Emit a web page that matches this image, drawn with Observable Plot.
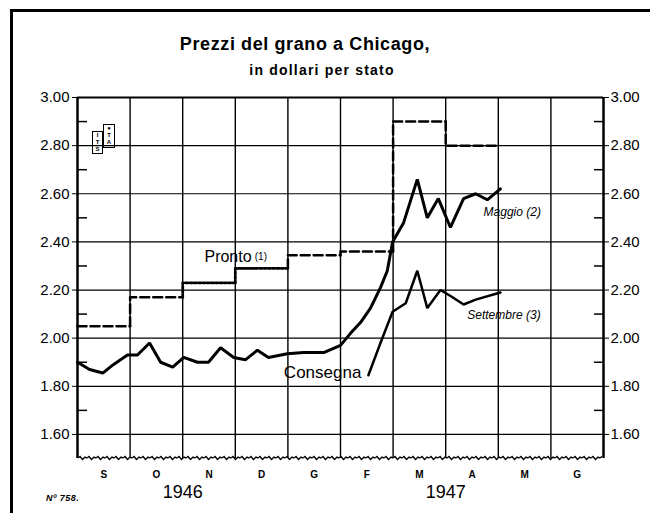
<!DOCTYPE html>
<html>
<head>
<meta charset="utf-8">
<script src="https://cdn.jsdelivr.net/npm/d3@7"></script>
<script src="https://cdn.jsdelivr.net/npm/@observablehq/plot@0.6"></script>
<style>
  html, body { margin: 0; padding: 0; background: #fff; }
  #wrap { position: relative; width: 650px; height: 513px; overflow: hidden; font-family: "Liberation Sans", Arial, sans-serif; }
  #border { position: absolute; left: 10px; top: 9px; right: -5px; bottom: -5px; border-top: 3px solid #000; border-left: 3px solid #000; }
  #header { position: relative; height: 80px; text-align: center; }
  #title { position: absolute; left: 0; right: 0; top: 34px; font-size: 18px; font-weight: bold; letter-spacing: 0.6px; padding-right: 40px; }
  #subtitle { position: absolute; left: 0; right: 0; top: 62px; font-size: 14px; font-weight: bold; letter-spacing: 1.2px; padding-right: 6px; }
  #num { position: absolute; left: 46px; top: 493px; font-size: 9px; font-style: italic; font-weight: bold; letter-spacing: 0.5px; }
  #logo1 { position: absolute; left: 92px; top: 131px; width: 9px; height: 21px; border: 1.5px solid #000; font-size: 6px; line-height: 7px; text-align: center; font-weight: bold; }
  #logo2 { position: absolute; left: 103px; top: 124px; width: 10px; height: 22px; border: 1.5px solid #000; font-size: 6px; line-height: 7px; text-align: center; font-weight: bold; }
  #wave { position: absolute; left: 78px; top: 454px; width: 524px; height: 8px;
    background-image: url("data:image/svg+xml,%3Csvg xmlns='http://www.w3.org/2000/svg' width='9' height='8'%3E%3Cpath d='M0,4 L2,2.5 L4.5,5.5 L7,3 L9,4' fill='none' stroke='black' stroke-width='1.4'/%3E%3C/svg%3E");
    background-repeat: repeat-x; }
  #chart svg { display: block; }
</style>
</head>
<body>
<div id="wrap">
  <div id="border"></div>
  <div id="header">
    <div id="title">Prezzi del grano a Chicago,</div>
    <div id="subtitle">in dollari per stato</div>
  </div>
  <div id="chart"></div>
  <div id="wave"></div>
  <div id="logo1">I<br>T<br>S</div>
  <div id="logo2">●<br>T<br>A</div>
  <div id="num">Nº 758.</div>
</div>
<script>
// Month letters (Sept 1946 – June 1947), one cell per month
const months = ["S", "O", "N", "D", "G", "F", "M", "A", "M", "G"];
const years = [{year: "1946", m: 2.0}, {year: "1947", m: 7.0}];

// y axis ticks
const yTicks = [1.6, 1.8, 2.0, 2.2, 2.4, 2.6, 2.8, 3.0];
const yMinor = [1.7, 1.9, 2.1, 2.3, 2.5, 2.7, 2.9];

// "Pronto" (spot) monthly prices and line style per month
const prontoValues = [2.05, 2.17, 2.23, 2.29, 2.345, 2.36, 2.90, 2.80];
const prontoStyle = ["dash", "dash", "dot", "dot", "dash", "dash", "dash", "dash"];

// "Consegna Maggio" (May delivery) – position in months from 1 Sept 1946, price
const maggioM = [0.00, 0.23, 0.48, 0.68, 0.95, 1.14, 1.37, 1.58, 1.81, 2.02, 2.28, 2.49, 2.72, 2.97, 3.19, 3.42, 3.63, 3.99, 4.30, 4.68, 5.00, 5.19, 5.38, 5.57, 5.76, 5.89, 5.99, 6.20, 6.46, 6.65, 6.86, 7.09, 7.34, 7.57, 7.79, 8.04];
const maggioV = [1.90, 1.87, 1.855, 1.89, 1.93, 1.93, 1.98, 1.90, 1.88, 1.92, 1.90, 1.90, 1.96, 1.92, 1.91, 1.95, 1.92, 1.935, 1.94, 1.94, 1.97, 2.02, 2.065, 2.125, 2.21, 2.28, 2.40, 2.48, 2.66, 2.50, 2.58, 2.46, 2.58, 2.60, 2.575, 2.62];

// "Consegna Settembre" (September delivery)
const settM = [5.53, 5.76, 5.99, 6.24, 6.46, 6.65, 6.90, 7.13, 7.34, 7.57, 8.04];
const settV = [1.846, 1.98, 2.11, 2.145, 2.28, 2.125, 2.20, 2.17, 2.14, 2.16, 2.19];

// Labels
const prontoLabel = [{text: "Pronto", m: 3.31, v: 2.337}];
const prontoNote = [{text: "(1)", m: 3.37, v: 2.337}];
const consegnaLabel = [{text: "Consegna", m: 4.66, v: 1.858}];
const italicLabels = [
  {text: "Maggio (2)", m: 7.72, v: 2.525},
  {text: "Settembre (3)", m: 7.41, v: 2.096}
];

// Build tables
const maggio = maggioM.map((m, i) => ({m, v: maggioV[i]}));
const sett = settM.map((m, i) => ({m, v: settV[i]}));
const pronto = [];
prontoValues.forEach((v, i) => {
  const style = prontoStyle[i];
  if (i > 0) pronto.push({m: i, v: prontoValues[i - 1], month: i, style});
  pronto.push({m: i, v, month: i, style});
  pronto.push({m: i + 1, v, month: i, style});
});
const cellCenters = months.map((_, i) => i + 0.5);
const boundaries = d3.range(1, months.length);

const sans = "'Liberation Sans', Arial, sans-serif";

const chart = Plot.plot({
  width: 650,
  height: 433,
  marginLeft: 77,
  marginRight: 47,
  marginTop: 17,
  marginBottom: 55,
  x: {domain: [0, months.length]},
  y: {domain: [1.5, 3.0]},
  style: {background: "transparent", color: "#000", fontFamily: sans},
  marks: [
    // grid
    Plot.ruleY(yTicks, {stroke: "#000", strokeWidth: 1.2}),
    Plot.ruleX(boundaries, {stroke: "#000", strokeWidth: 1.4}),
    // frame
    Plot.ruleX([0, months.length], {stroke: "#000", strokeWidth: 2.5}),
    Plot.ruleY([3.0], {stroke: "#000", strokeWidth: 2}),
    // axes
    Plot.axisY({anchor: "left", ticks: yTicks, tickFormat: ".2f", tickSize: 5, tickPadding: 3, fontSize: 15, fontFamily: sans, label: null}),
    Plot.axisY({anchor: "right", ticks: yTicks, tickFormat: ".2f", tickSize: 5, tickPadding: 2, fontSize: 15, fontFamily: sans, label: null}),
    Plot.axisY({anchor: "left", ticks: yMinor, tickSize: -10, tickFormat: () => "", label: null, strokeWidth: 1.5}),
    Plot.axisY({anchor: "right", ticks: yMinor, tickSize: -10, tickFormat: () => "", label: null, strokeWidth: 1.5}),
    Plot.axisX({ticks: cellCenters, tickSize: 0, tickPadding: 12, tickFormat: d => months[Math.floor(d)], fontSize: 10, fontWeight: "bold", label: null}),
    Plot.text(years, {x: "m", text: "year", frameAnchor: "bottom", dy: 39, fontSize: 18, fontFamily: sans}),
    // Pronto step line
    Plot.line(pronto.filter(d => d.style === "dash"), {x: "m", y: "v", z: "month", stroke: "#000", strokeWidth: 2.5, strokeDasharray: "9,4", curve: "linear"}),
    Plot.line(pronto.filter(d => d.style === "dot"), {x: "m", y: "v", z: "month", stroke: "#000", strokeWidth: 2.8, strokeDasharray: "2.5,1.8", curve: "linear"}),
    // Consegna lines
    Plot.line(maggio, {x: "m", y: "v", stroke: "#000", strokeWidth: 3, strokeLinejoin: "miter"}),
    Plot.line(sett, {x: "m", y: "v", stroke: "#000", strokeWidth: 2.5, strokeLinejoin: "miter"}),
    // labels
    Plot.text(prontoLabel, {x: "m", y: "v", text: "text", fontSize: 16, textAnchor: "end", fill: "#000"}),
    Plot.text(prontoNote, {x: "m", y: "v", text: "text", fontSize: 10, textAnchor: "start", fill: "#000"}),
    Plot.text(consegnaLabel, {x: "m", y: "v", text: "text", fontSize: 17, textAnchor: "middle", fill: "#000"}),
    Plot.text(italicLabels, {x: "m", y: "v", text: "text", textAnchor: "start", fontSize: 12, fontStyle: "italic", fill: "#000"})
  ]
});
document.getElementById("chart").appendChild(chart);
</script>
</body>
</html>
